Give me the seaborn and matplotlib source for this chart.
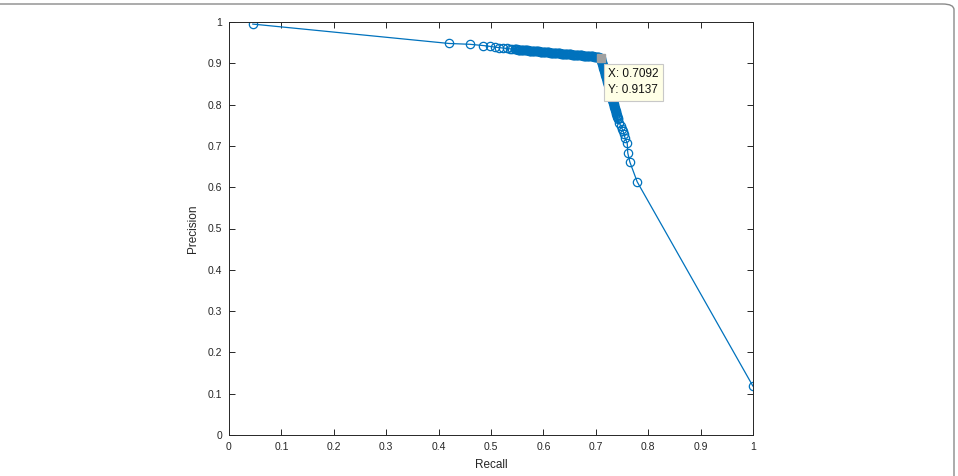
import matplotlib
matplotlib.use("Agg")
import matplotlib.pyplot as plt
from matplotlib.patches import FancyBboxPatch
import seaborn as sns
import pandas as pd

sns.set_theme(style="white")
plt.rcParams['font.family'] = ['Liberation Sans', 'DejaVu Sans']

# Recall / precision values (sparse markers + dense marker band)
recall = [0.045, 0.420, 0.460, 0.485, 0.498, 0.508, 0.516, 0.523, 0.530, 0.536, 0.541,
          0.545, 0.548, 0.551, 0.554, 0.557, 0.560, 0.563, 0.566, 0.569, 0.572,
          0.575, 0.578, 0.581, 0.584, 0.587, 0.590, 0.593, 0.596, 0.599, 0.602,
          0.605, 0.608, 0.611, 0.614, 0.617, 0.620, 0.623, 0.626, 0.629, 0.632,
          0.635, 0.638, 0.641, 0.644, 0.647, 0.650, 0.653, 0.656, 0.659, 0.662,
          0.665, 0.668, 0.671, 0.674, 0.677, 0.680, 0.683, 0.686, 0.689, 0.692,
          0.695, 0.698, 0.701, 0.704, 0.706, 0.7092,
          0.7102, 0.7113, 0.7124, 0.7135, 0.7146, 0.7157, 0.7168, 0.7179, 0.7190, 0.7201,
          0.7212, 0.7223, 0.7234, 0.7245, 0.7256, 0.7267, 0.7278, 0.7289, 0.7300, 0.7311,
          0.7322, 0.7333, 0.7344, 0.7355, 0.7366, 0.7377, 0.7388, 0.7399, 0.7410, 0.7421,
          0.745, 0.748, 0.750, 0.752, 0.754, 0.756, 0.760, 0.761, 0.765, 0.779, 1.000]
precision = [0.995, 0.948, 0.946, 0.943, 0.941, 0.939, 0.938, 0.937, 0.936, 0.935, 0.9345,
             0.9340, 0.9337, 0.9333, 0.9330, 0.9326, 0.9323, 0.9319, 0.9316, 0.9312, 0.9309,
             0.9305, 0.9302, 0.9298, 0.9295, 0.9291, 0.9288, 0.9284, 0.9281, 0.9277, 0.9274,
             0.9270, 0.9267, 0.9263, 0.9260, 0.9256, 0.9253, 0.9249, 0.9246, 0.9242, 0.9239,
             0.9235, 0.9232, 0.9228, 0.9225, 0.9221, 0.9218, 0.9214, 0.9211, 0.9207, 0.9204,
             0.9200, 0.9197, 0.9193, 0.9190, 0.9186, 0.9183, 0.9179, 0.9176, 0.9172, 0.9169,
             0.9165, 0.9161, 0.9155, 0.9149, 0.9143, 0.9137,
             0.909, 0.904, 0.899, 0.894, 0.889, 0.884, 0.879, 0.874, 0.869, 0.864,
             0.859, 0.854, 0.849, 0.844, 0.839, 0.834, 0.829, 0.824, 0.819, 0.814,
             0.809, 0.804, 0.799, 0.794, 0.789, 0.784, 0.779, 0.774, 0.769, 0.764,
             0.755, 0.748, 0.742, 0.736, 0.728, 0.718, 0.707, 0.683, 0.661, 0.613, 0.118]
# further markers packed inside the dense band
band_recall = [0.5465, 0.5495, 0.5525, 0.5555, 0.5585, 0.5615, 0.5645, 0.5675, 0.5705, 0.5735,
               0.5765, 0.5795, 0.5825, 0.5855, 0.5885, 0.5915, 0.5945, 0.5975, 0.6005, 0.6035,
               0.6065, 0.6095, 0.6125, 0.6155, 0.6185, 0.6215, 0.6245, 0.6275, 0.6305, 0.6335,
               0.6365, 0.6395, 0.6425, 0.6455, 0.6485, 0.6515, 0.6545, 0.6575, 0.6605, 0.6635,
               0.6665, 0.6695, 0.6725, 0.6755, 0.6785, 0.6815, 0.6845, 0.6875, 0.6905, 0.6935,
               0.6965, 0.6995, 0.7025, 0.7050,
               0.7097, 0.7108, 0.7119, 0.7130, 0.7141, 0.7152, 0.7163, 0.7174, 0.7185, 0.7196,
               0.7207, 0.7218, 0.7229, 0.7240, 0.7251, 0.7262, 0.7273, 0.7284, 0.7295, 0.7306,
               0.7317, 0.7328, 0.7339, 0.7350, 0.7361, 0.7372, 0.7383, 0.7394, 0.7405, 0.7416]
band_precision = [0.9338, 0.9335, 0.9331, 0.9328, 0.9324, 0.9321, 0.9317, 0.9314, 0.9310, 0.9307,
                  0.9303, 0.9300, 0.9296, 0.9293, 0.9289, 0.9286, 0.9282, 0.9279, 0.9275, 0.9272,
                  0.9268, 0.9265, 0.9261, 0.9258, 0.9254, 0.9251, 0.9247, 0.9244, 0.9240, 0.9237,
                  0.9233, 0.9230, 0.9226, 0.9223, 0.9219, 0.9216, 0.9212, 0.9209, 0.9205, 0.9202,
                  0.9198, 0.9195, 0.9191, 0.9188, 0.9184, 0.9181, 0.9177, 0.9174, 0.9170, 0.9167,
                  0.9163, 0.9158, 0.9152, 0.9146,
                  0.9115, 0.9065, 0.9015, 0.8965, 0.8915, 0.8865, 0.8815, 0.8765, 0.8715, 0.8665,
                  0.8615, 0.8565, 0.8515, 0.8465, 0.8415, 0.8365, 0.8315, 0.8265, 0.8215, 0.8165,
                  0.8115, 0.8065, 0.8015, 0.7965, 0.7915, 0.7865, 0.7815, 0.7765, 0.7715, 0.7665]
ticks = [0, 0.1, 0.2, 0.3, 0.4, 0.5, 0.6, 0.7, 0.8, 0.9, 1]
tick_labels = ["0", "0.1", "0.2", "0.3", "0.4", "0.5", "0.6", "0.7", "0.8", "0.9", "1"]
tip_x, tip_y = 0.7092, 0.9137

df = pd.DataFrame({"Recall": recall + band_recall,
                   "Precision": precision + band_precision})
blue = "#0072BD"
axc = "#262626"

fig = plt.figure(figsize=(9.58, 4.76), dpi=100)
ax = fig.add_axes([229/958, 41/476, 524/958, 413/476])

sns.lineplot(data=df, x="Recall", y="Precision", sort=True, estimator=None,
             color=blue, linewidth=0.9, marker="o", markersize=6,
             markerfacecolor="none", markeredgecolor=blue, markeredgewidth=0.9, ax=ax)

ax.plot([tip_x], [tip_y], marker="s", markersize=6, color="#a0a0a0",
        markeredgecolor="#a0a0a0", zorder=5)
ax.text(tip_x + 0.014, tip_y - 0.025, f"X: {tip_x:.4f}\nY: {tip_y:.4f}",
        fontsize=8.5, color="#111111", va="top", ha="left", linespacing=1.5,
        bbox=dict(boxstyle="square,pad=0.35", facecolor="#ffffe6",
                  edgecolor="#c8c8c8", linewidth=0.8), zorder=6)

ax.set_xlim(0, 1)
ax.set_ylim(0, 1)
ax.set_xticks(ticks)
ax.set_xticklabels(tick_labels)
ax.set_yticks(ticks)
ax.set_yticklabels(tick_labels)
ax.tick_params(direction="in", length=4, width=0.7, colors=axc, labelsize=7.5,
               top=True, right=True, bottom=True, left=True, pad=5,
               labeltop=False, labelright=False)
for s in ax.spines.values():
    s.set_color(axc)
    s.set_linewidth(0.7)
    s.set_visible(True)
ax.set_xlabel("Recall", fontsize=8.5, color=axc, labelpad=5)
ax.set_ylabel("Precision", fontsize=8.5, color=axc, labelpad=6)
ax.grid(False)

border = FancyBboxPatch((-20/958, -30/476), (954 + 20)/958, (474 + 30)/476 - 2/476,
                        boxstyle="round,pad=0,rounding_size=0.012",
                        transform=fig.transFigure, fill=False,
                        edgecolor="#8a8a8a", linewidth=1.0, clip_on=False)
fig.patches.append(border)

fig.savefig("out.png", dpi=100)
